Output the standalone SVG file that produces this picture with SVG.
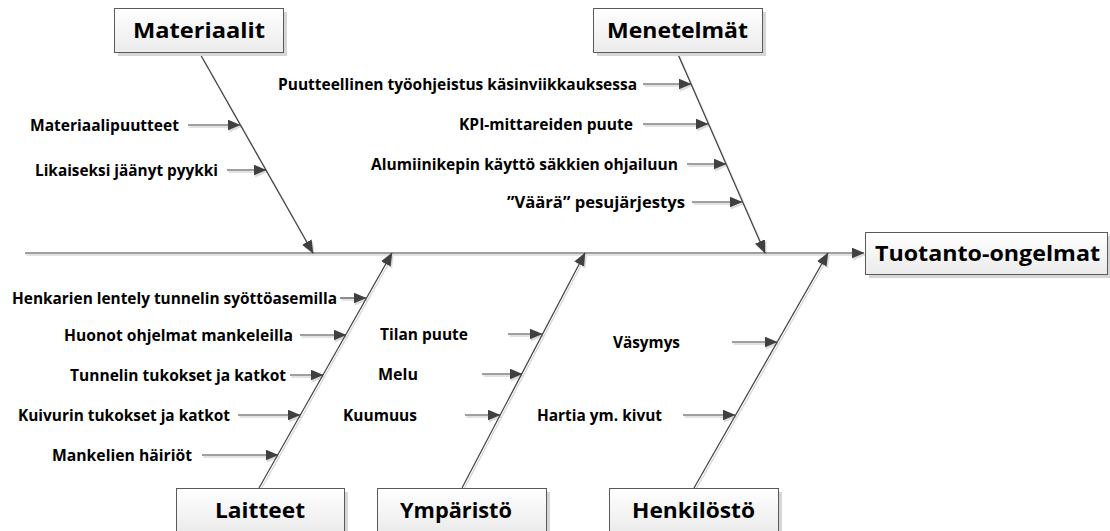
<svg xmlns="http://www.w3.org/2000/svg" width="1110" height="531" viewBox="0 0 1110 531">
<style>
.bg{fill:#ffffff}
.box{fill:url(#g);stroke:#5a5a5a;stroke-width:1}
.sh{fill:#d6d6d6}
.ln{stroke:#404040;stroke-width:1.2;fill:none;marker-end:url(#ah)}
.lns{stroke:#d9d9d9;stroke-width:1.4;fill:none;marker-end:url(#ahs)}
.t{font-family:"Open Sans","Liberation Sans",Arial,sans-serif;font-weight:700;fill:#000}
.lab{font-size:15.5px}
.tit{font-size:22px}
</style>
<defs>
<linearGradient id="g" x1="0" y1="0" x2="0" y2="1">
<stop offset="0" stop-color="#ffffff"/>
<stop offset="1" stop-color="#ebebeb"/>
</linearGradient>
<marker id="ah" markerUnits="userSpaceOnUse" markerWidth="13" markerHeight="11" refX="12.5" refY="5.5" orient="auto">
<path d="M0,0 L13,5.5 L0,11 z" fill="#404040"/>
</marker>
<marker id="ahs" markerUnits="userSpaceOnUse" markerWidth="13" markerHeight="11" refX="12.5" refY="5.5" orient="auto">
<path d="M0,0 L13,5.5 L0,11 z" fill="#dcdcdc"/>
</marker>
</defs>
<rect class="bg" x="0" y="0" width="1110" height="531"/>

<g id="connectors-shadow" transform="translate(1.5,2)">
<line class="lns" x1="25" y1="253" x2="864" y2="253"/>
<line class="lns" x1="199" y1="52" x2="313" y2="253"/>
<line class="lns" x1="677" y1="52" x2="765" y2="253"/>
<line class="lns" x1="259" y1="488" x2="392" y2="253"/>
<line class="lns" x1="462" y1="488" x2="585" y2="253"/>
<line class="lns" x1="694" y1="488" x2="828" y2="253"/>
<line class="lns" x1="188" y1="125" x2="240" y2="125"/>
<line class="lns" x1="227" y1="170" x2="266" y2="170"/>
<line class="lns" x1="643" y1="84" x2="691" y2="84"/>
<line class="lns" x1="643" y1="124" x2="708" y2="124"/>
<line class="lns" x1="687" y1="164" x2="726" y2="164"/>
<line class="lns" x1="692" y1="202" x2="742" y2="202"/>
<line class="lns" x1="340" y1="298" x2="366" y2="298"/>
<line class="lns" x1="300" y1="335" x2="346" y2="335"/>
<line class="lns" x1="290" y1="375" x2="323" y2="375"/>
<line class="lns" x1="238" y1="415" x2="300" y2="415"/>
<line class="lns" x1="202" y1="455" x2="278" y2="455"/>
<line class="lns" x1="508" y1="334" x2="542" y2="334"/>
<line class="lns" x1="482" y1="374" x2="522" y2="374"/>
<line class="lns" x1="465" y1="415" x2="500" y2="415"/>
<line class="lns" x1="732" y1="342" x2="777" y2="342"/>
<line class="lns" x1="683" y1="415" x2="735" y2="415"/>
</g>

<g id="connectors">
<line class="ln" x1="25" y1="253" x2="864" y2="253"/>
<line class="ln" x1="199" y1="52" x2="313" y2="253"/>
<line class="ln" x1="677" y1="52" x2="765" y2="253"/>
<line class="ln" x1="259" y1="488" x2="392" y2="253"/>
<line class="ln" x1="462" y1="488" x2="585" y2="253"/>
<line class="ln" x1="694" y1="488" x2="828" y2="253"/>
<line class="ln" x1="188" y1="125" x2="240" y2="125"/>
<line class="ln" x1="227" y1="170" x2="266" y2="170"/>
<line class="ln" x1="643" y1="84" x2="691" y2="84"/>
<line class="ln" x1="643" y1="124" x2="708" y2="124"/>
<line class="ln" x1="687" y1="164" x2="726" y2="164"/>
<line class="ln" x1="692" y1="202" x2="742" y2="202"/>
<line class="ln" x1="340" y1="298" x2="366" y2="298"/>
<line class="ln" x1="300" y1="335" x2="346" y2="335"/>
<line class="ln" x1="290" y1="375" x2="323" y2="375"/>
<line class="ln" x1="238" y1="415" x2="300" y2="415"/>
<line class="ln" x1="202" y1="455" x2="278" y2="455"/>
<line class="ln" x1="508" y1="334" x2="542" y2="334"/>
<line class="ln" x1="482" y1="374" x2="522" y2="374"/>
<line class="ln" x1="465" y1="415" x2="500" y2="415"/>
<line class="ln" x1="732" y1="342" x2="777" y2="342"/>
<line class="ln" x1="683" y1="415" x2="735" y2="415"/>
</g>

<g id="materiaalit">
<rect class="sh" x="118" y="12" width="169" height="44"/>
<rect class="box" x="114.5" y="8.5" width="169" height="44"/>
<text class="t tit" x="133" y="37.5" textLength="132" lengthAdjust="spacingAndGlyphs">Materiaalit</text>
</g>
<g id="menetelmat">
<rect class="sh" x="597" y="12" width="169" height="44"/>
<rect class="box" x="593.5" y="8.5" width="169" height="44"/>
<text class="t tit" x="607" y="37.5" textLength="141" lengthAdjust="spacingAndGlyphs">Menetelmät</text>
</g>
<g id="tuotanto">
<rect class="sh" x="869" y="236" width="242" height="42"/>
<rect class="box" x="865.5" y="232.5" width="242" height="42"/>
<text class="t tit" x="875" y="261" textLength="225" lengthAdjust="spacingAndGlyphs">Tuotanto-ongelmat</text>
</g>
<g id="laitteet">
<rect class="sh" x="180" y="492" width="168" height="44"/>
<rect class="box" x="176.5" y="488.5" width="168" height="44"/>
<text class="t tit" x="215" y="518" textLength="90" lengthAdjust="spacingAndGlyphs">Laitteet</text>
</g>
<g id="ymparisto">
<rect class="sh" x="381" y="492" width="169" height="44"/>
<rect class="box" x="377.5" y="488.5" width="169" height="44"/>
<text class="t tit" x="400" y="518" textLength="112" lengthAdjust="spacingAndGlyphs">Ympäristö</text>
</g>
<g id="henkilosto">
<rect class="sh" x="613" y="492" width="169" height="44"/>
<rect class="box" x="609.5" y="488.5" width="169" height="44"/>
<text class="t tit" x="632" y="518" textLength="123" lengthAdjust="spacingAndGlyphs">Henkilöstö</text>
</g>

<g id="labels-materiaalit">
<text class="t lab" x="30" y="130.5" textLength="149" lengthAdjust="spacingAndGlyphs">Materiaalipuutteet</text>
<text class="t lab" x="35" y="175.5" textLength="183" lengthAdjust="spacingAndGlyphs">Likaiseksi jäänyt pyykki</text>
</g>
<g id="labels-menetelmat">
<text class="t lab" x="278" y="89.5" textLength="359" lengthAdjust="spacingAndGlyphs">Puutteellinen työohjeistus käsinviikkauksessa</text>
<text class="t lab" x="459" y="129.5" textLength="174" lengthAdjust="spacingAndGlyphs">KPI-mittareiden puute</text>
<text class="t lab" x="371" y="169.5" textLength="307" lengthAdjust="spacingAndGlyphs">Alumiinikepin käyttö säkkien ohjailuun</text>
<text class="t lab" x="507" y="207.5" textLength="178" lengthAdjust="spacingAndGlyphs">”Väärä” pesujärjestys</text>
</g>
<g id="labels-laitteet">
<text class="t lab" x="12" y="303.5" textLength="325" lengthAdjust="spacingAndGlyphs">Henkarien lentely tunnelin syöttöasemilla</text>
<text class="t lab" x="64" y="340.5" textLength="229" lengthAdjust="spacingAndGlyphs">Huonot ohjelmat mankeleilla</text>
<text class="t lab" x="70" y="380.5" textLength="216" lengthAdjust="spacingAndGlyphs">Tunnelin tukokset ja katkot</text>
<text class="t lab" x="18" y="420.5" textLength="212" lengthAdjust="spacingAndGlyphs">Kuivurin tukokset ja katkot</text>
<text class="t lab" x="52" y="460.5" textLength="140" lengthAdjust="spacingAndGlyphs">Mankelien häiriöt</text>
</g>
<g id="labels-ymparisto">
<text class="t lab" x="380" y="339.5" textLength="88" lengthAdjust="spacingAndGlyphs">Tilan puute</text>
<text class="t lab" x="378" y="379.5" textLength="40" lengthAdjust="spacingAndGlyphs">Melu</text>
<text class="t lab" x="343" y="420.5" textLength="74" lengthAdjust="spacingAndGlyphs">Kuumuus</text>
</g>
<g id="labels-henkilosto">
<text class="t lab" x="613" y="347.5" textLength="67" lengthAdjust="spacingAndGlyphs">Väsymys</text>
<text class="t lab" x="537" y="420.5" textLength="125" lengthAdjust="spacingAndGlyphs">Hartia ym. kivut</text>
</g>
</svg>
